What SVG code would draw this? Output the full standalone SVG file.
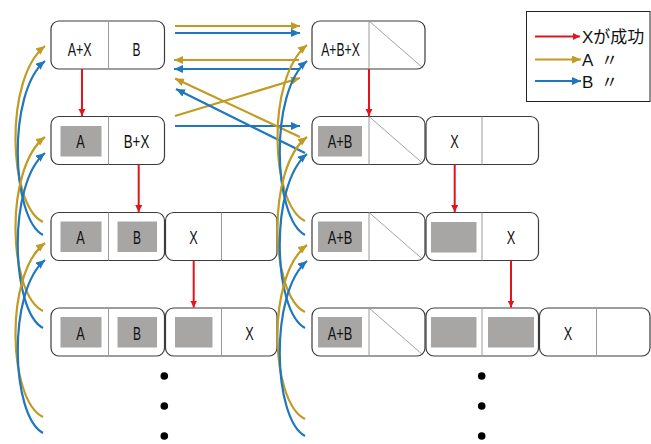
<svg xmlns="http://www.w3.org/2000/svg" width="651" height="444" viewBox="0 0 651 444">
<style>
.box{fill:#fff;stroke:#3c3c3c;stroke-width:1.2}
.div{stroke:#9a9a9a;stroke-width:1}
.diag{stroke:#8a8a8a;stroke-width:0.8}
.g{fill:#a8a5a5}
.t{font-family:"Liberation Sans",Arial,sans-serif;font-size:18px;fill:#111;text-anchor:middle}
.lt{font-family:"Liberation Sans","Noto Sans CJK JP",sans-serif;font-size:17px;fill:#111}
.red{stroke:#e3141c;stroke-width:2;fill:none}
.gold{stroke:#c29b22;stroke-width:2.2;fill:none}
.blue{stroke:#1f77be;stroke-width:2.2;fill:none}
</style>
<defs>
<marker id="mr" markerUnits="userSpaceOnUse" markerWidth="8" markerHeight="8" refX="7" refY="3.5" orient="auto"><path d="M0,0 L7,3.5 L0,7 z" fill="#e3141c"/></marker>
<marker id="mg" markerUnits="userSpaceOnUse" markerWidth="10" markerHeight="10" refX="9" refY="4" orient="auto"><path d="M0,0 L9,4 L0,8 z" fill="#c29b22"/></marker>
<marker id="mb" markerUnits="userSpaceOnUse" markerWidth="10" markerHeight="10" refX="9" refY="4" orient="auto"><path d="M0,0 L9,4 L0,8 z" fill="#1f77be"/></marker>
</defs>

<g id="n_L1">
<rect class="box" x="51" y="21" width="113.5" height="48" rx="8"/>
<line class="div" x1="108.5" y1="21" x2="108.5" y2="69"/>
<text class="t" x="79.7" y="55.6" textLength="24" lengthAdjust="spacingAndGlyphs">A+X</text>
<text class="t" x="136.5" y="55.6" textLength="8" lengthAdjust="spacingAndGlyphs">B</text>
</g>
<g id="n_L2">
<rect class="box" x="51" y="116.5" width="113.5" height="48" rx="8"/>
<line class="div" x1="108.5" y1="116.5" x2="108.5" y2="164.5"/>
<rect class="g" x="60.5" y="126" width="41" height="30.5"/>
<text class="t" x="80.5" y="148.3" textLength="8.5" lengthAdjust="spacingAndGlyphs">A</text>
<text class="t" x="136.5" y="148.3" textLength="25.5" lengthAdjust="spacingAndGlyphs">B+X</text>
</g>
<g id="n_L3a">
<rect class="box" x="51" y="212.5" width="113.5" height="48" rx="8"/>
<line class="div" x1="108.5" y1="212.5" x2="108.5" y2="260.5"/>
<rect class="g" x="60.5" y="221.5" width="41" height="30.5"/>
<rect class="g" x="117.5" y="221.5" width="39.5" height="30.5"/>
<text class="t" x="80.5" y="244" textLength="8.5" lengthAdjust="spacingAndGlyphs">A</text>
<text class="t" x="137" y="244" textLength="8" lengthAdjust="spacingAndGlyphs">B</text>
</g>
<g id="n_L3b">
<rect class="box" x="165.5" y="212.5" width="111.5" height="48" rx="8"/>
<line class="div" x1="221.5" y1="212.5" x2="221.5" y2="260.5"/>
<text class="t" x="193.5" y="244" textLength="8.5" lengthAdjust="spacingAndGlyphs">X</text>
</g>
<g id="n_L4a">
<rect class="box" x="51" y="308" width="113.5" height="48" rx="8"/>
<line class="div" x1="108.5" y1="308" x2="108.5" y2="356"/>
<rect class="g" x="60.5" y="317" width="41" height="30.5"/>
<rect class="g" x="117.5" y="317" width="39.5" height="30.5"/>
<text class="t" x="80.5" y="339.5" textLength="8.5" lengthAdjust="spacingAndGlyphs">A</text>
<text class="t" x="137" y="339.5" textLength="8" lengthAdjust="spacingAndGlyphs">B</text>
</g>
<g id="n_L4b">
<rect class="box" x="165.5" y="308" width="111.5" height="48" rx="8"/>
<line class="div" x1="221.5" y1="308" x2="221.5" y2="356"/>
<rect class="g" x="175" y="317" width="37.5" height="30.5"/>
<text class="t" x="249.5" y="339.5" textLength="8.5" lengthAdjust="spacingAndGlyphs">X</text>
</g>

<g id="n_R1">
<rect class="box" x="312" y="21" width="113" height="48" rx="8"/>
<line class="div" x1="369" y1="21" x2="369" y2="69"/>
<line class="diag" x1="369" y1="21" x2="423" y2="68"/>
<text class="t" x="340.5" y="55.6" textLength="38.5" lengthAdjust="spacingAndGlyphs">A+B+X</text>
</g>
<g id="n_R2a">
<rect class="box" x="312" y="116.5" width="113" height="48" rx="8"/>
<line class="div" x1="369" y1="116.5" x2="369" y2="164.5"/>
<line class="diag" x1="369" y1="116.5" x2="423" y2="163.5"/>
<rect class="g" x="318" y="126" width="44" height="30.5"/>
<text class="t" x="340" y="148.3" textLength="24.5" lengthAdjust="spacingAndGlyphs">A+B</text>
</g>
<g id="n_R2b">
<rect class="box" x="426" y="116.5" width="112.5" height="48" rx="8"/>
<line class="div" x1="482" y1="116.5" x2="482" y2="164.5"/>
<text class="t" x="454.5" y="148.3" textLength="8.5" lengthAdjust="spacingAndGlyphs">X</text>
</g>
<g id="n_R3a">
<rect class="box" x="312" y="212.5" width="113" height="48" rx="8"/>
<line class="div" x1="369" y1="212.5" x2="369" y2="260.5"/>
<line class="diag" x1="369" y1="212.5" x2="423" y2="259.5"/>
<rect class="g" x="318" y="221.5" width="44" height="30.5"/>
<text class="t" x="340" y="244" textLength="24.5" lengthAdjust="spacingAndGlyphs">A+B</text>
</g>
<g id="n_R3b">
<rect class="box" x="426" y="212.5" width="112.5" height="48" rx="8"/>
<line class="div" x1="482" y1="212.5" x2="482" y2="260.5"/>
<rect class="g" x="431" y="222" width="45.5" height="30.5"/>
<text class="t" x="511" y="244" textLength="8.5" lengthAdjust="spacingAndGlyphs">X</text>
</g>
<g id="n_R4a">
<rect class="box" x="312" y="308" width="113" height="48" rx="8"/>
<line class="div" x1="369" y1="308" x2="369" y2="356"/>
<line class="diag" x1="369" y1="308" x2="423" y2="355"/>
<rect class="g" x="318" y="317" width="44" height="30.5"/>
<text class="t" x="340" y="339.5" textLength="24.5" lengthAdjust="spacingAndGlyphs">A+B</text>
</g>
<g id="n_R4b">
<rect class="box" x="426" y="308" width="112.5" height="48" rx="8"/>
<line class="div" x1="482" y1="308" x2="482" y2="356"/>
<rect class="g" x="431" y="317" width="45.5" height="30.5"/>
<rect class="g" x="488" y="317" width="46" height="30.5"/>
</g>
<g id="n_R4c">
<rect class="box" x="539.5" y="308" width="110.5" height="48" rx="8"/>
<line class="div" x1="596.5" y1="308" x2="596.5" y2="356"/>
<text class="t" x="568" y="339.5" textLength="8.5" lengthAdjust="spacingAndGlyphs">X</text>
</g>

<g id="dots" fill="#000">
<circle cx="164.3" cy="376" r="3.8"/><circle cx="164.3" cy="406" r="3.8"/><circle cx="164.3" cy="436" r="3.8"/>
<circle cx="481.7" cy="376" r="3.8"/><circle cx="481.7" cy="406" r="3.8"/><circle cx="481.7" cy="436" r="3.8"/>
</g>

<g id="connectors">
<line class="red" x1="82" y1="69" x2="82" y2="116" marker-end="url(#mr)"/>
<line class="red" x1="138.7" y1="164.5" x2="138.7" y2="212" marker-end="url(#mr)"/>
<line class="red" x1="193.7" y1="260.5" x2="193.7" y2="307.5" marker-end="url(#mr)"/>
<line class="red" x1="369" y1="69" x2="369" y2="116" marker-end="url(#mr)"/>
<line class="red" x1="454.7" y1="164.5" x2="454.7" y2="212" marker-end="url(#mr)"/>
<line class="red" x1="511" y1="260.5" x2="511" y2="307.5" marker-end="url(#mr)"/>

<path class="gold" d="M175,26 H300" marker-end="url(#mg)"/>
<path class="blue" d="M175,33 H300" marker-end="url(#mb)"/>
<path class="gold" d="M299,60 H174" marker-end="url(#mg)"/>
<path class="blue" d="M299,69 H174" marker-end="url(#mb)"/>
<path class="gold" d="M175,116 L300,78" marker-end="url(#mg)"/>
<path class="blue" d="M175,126 H300" marker-end="url(#mb)"/>
<path class="gold" d="M300,137 L175,78.5" marker-end="url(#mg)"/>
<path class="blue" d="M305,153 L176,89" marker-end="url(#mb)"/>

<path class="gold" d="M43,222 C8,205 4,78 45,46" marker-end="url(#mg)"/>
<path class="blue" d="M43,235 C11,218 7,92 45,61" marker-end="url(#mb)"/>
<path class="gold" d="M43,311 C8,294 4,168 45,137" marker-end="url(#mg)"/>
<path class="blue" d="M43,328 C11,311 7,184 45,153" marker-end="url(#mb)"/>
<path class="gold" d="M43,417 C8,400 4,274 45,243" marker-end="url(#mg)"/>
<path class="blue" d="M43,433 C11,416 7,291 45,260" marker-end="url(#mb)"/>

<path class="gold" d="M305,221 C270,204 266,78 307,45" marker-end="url(#mg)"/>
<path class="blue" d="M305,235 C273,218 269,92 307,61" marker-end="url(#mb)"/>
<path class="gold" d="M305,312 C270,295 266,168 307,137" marker-end="url(#mg)"/>
<path class="blue" d="M305,328 C273,311 269,185 307,154" marker-end="url(#mb)"/>
<path class="gold" d="M305,419 C270,402 266,276 307,245" marker-end="url(#mg)"/>
<path class="blue" d="M305,436 C273,419 269,293 307,261" marker-end="url(#mb)"/>
</g>

<g id="legend">
<rect x="526.5" y="11.5" width="123.5" height="90" fill="#fff" stroke="#222" stroke-width="1"/>
<line class="red" x1="535" y1="36.5" x2="580" y2="36.5" marker-end="url(#mr)"/>
<path class="gold" d="M535,59.5 H581" marker-end="url(#mg)"/>
<path class="blue" d="M535,81 H581" marker-end="url(#mb)"/>
<text class="lt" x="582" y="43">Xが成功</text>
<text class="lt" x="582" y="66">A<tspan x="601">〃</tspan></text>
<text class="lt" x="582" y="87.5">B<tspan x="601">〃</tspan></text>
</g>
</svg>
